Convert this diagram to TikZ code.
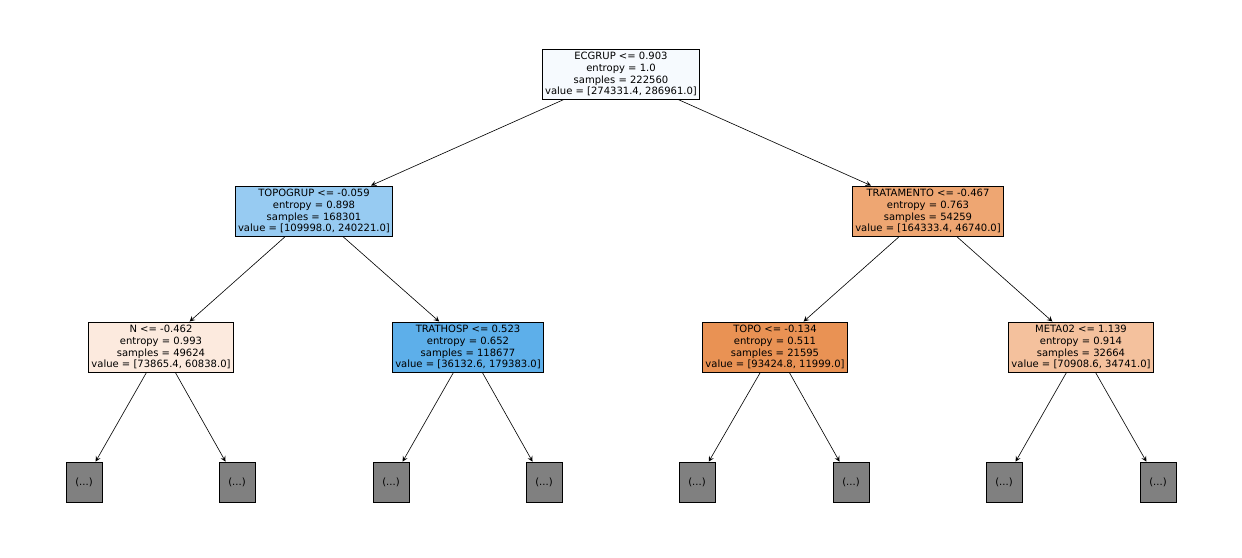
\documentclass[tikz,border=0pt]{standalone}
\usepackage{fontspec}
\setmainfont{DejaVu Sans}
\usepackage{tikz}
\definecolor{cRoot}{HTML}{F6FAFE}
\definecolor{cTopogrup}{HTML}{97CBF2}
\definecolor{cTratam}{HTML}{EEA672}
\definecolor{cN}{HTML}{FCEADE}
\definecolor{cTrathosp}{HTML}{5DAFEA}
\definecolor{cTopo}{HTML}{E99254}
\definecolor{cMeta}{HTML}{F4C19D}
\tikzset{
  split/.style={draw, align=center, inner sep=1.6pt,
    font=\fontsize{5.7}{6.8}\selectfont},
  leaf/.style={draw, fill=gray!100!white, fill=black!50, minimum width=0.72cm,
    minimum height=0.8cm, font=\fontsize{5.7}{6.8}\selectfont},
  edge/.style={->, >=stealth, line width=0.35pt}
}
\begin{document}
\begin{tikzpicture}[x=0.02cm, y=-0.02cm]
    \useasboundingbox (0, 0) rectangle (1242, 558);
    \node[split, fill=cRoot] (root) at (621, 74) {ECGRUP <= 0.903\\entropy = 1.0\\samples = 222560\\value = [274331.4, 286961.0]};
    \node[split, fill=cTopogrup] (topogrup) at (314, 211) {TOPOGRUP <= -0.059\\entropy = 0.898\\samples = 168301\\value = [109998.0, 240221.0]};
    \node[split, fill=cTratam] (tratam) at (928, 211) {TRATAMENTO <= -0.467\\entropy = 0.763\\samples = 54259\\value = [164333.4, 46740.0]};
    \node[split, fill=cN] (n) at (161, 347) {N <= -0.462\\entropy = 0.993\\samples = 49624\\value = [73865.4, 60838.0]};
    \node[split, fill=cTrathosp] (trathosp) at (468, 347) {TRATHOSP <= 0.523\\entropy = 0.652\\samples = 118677\\value = [36132.6, 179383.0]};
    \node[split, fill=cTopo] (topo) at (775, 347) {TOPO <= -0.134\\entropy = 0.511\\samples = 21595\\value = [93424.8, 11999.0]};
    \node[split, fill=cMeta] (meta) at (1081, 347) {META02 <= 1.139\\entropy = 0.914\\samples = 32664\\value = [70908.6, 34741.0]};
    \foreach \i/\x in {1/84, 2/237, 3/391, 4/544, 5/697, 6/851, 7/1004, 8/1158}
        \node[leaf] (leaf\i) at (\x, 482) {(...)};

    \draw[edge] (root) -- (topogrup);
    \draw[edge] (root) -- (tratam);
    \draw[edge] (topogrup) -- (n);
    \draw[edge] (topogrup) -- (trathosp);
    \draw[edge] (tratam) -- (topo);
    \draw[edge] (tratam) -- (meta);
    \draw[edge] (n) -- (leaf1);
    \draw[edge] (n) -- (leaf2);
    \draw[edge] (trathosp) -- (leaf3);
    \draw[edge] (trathosp) -- (leaf4);
    \draw[edge] (topo) -- (leaf5);
    \draw[edge] (topo) -- (leaf6);
    \draw[edge] (meta) -- (leaf7);
    \draw[edge] (meta) -- (leaf8);
\end{tikzpicture}
\end{document}
